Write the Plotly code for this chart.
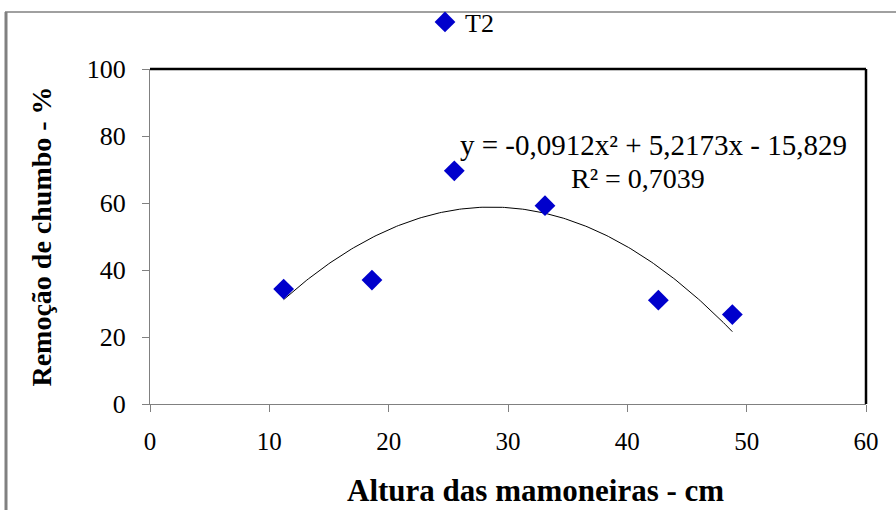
import numpy as np
import plotly.graph_objects as go

# Data
altura_cm = [11.2, 18.6, 25.5, 33.1, 42.6, 48.8]
remocao_pct = [34.3, 37.0, 69.6, 59.2, 31.0, 26.7]
series_name = "T2"

# Polynomial trendline coefficients as printed on the chart
coef_a, coef_b, coef_c = -0.0912, 5.2173, -15.829
equation_text = "y = -0,0912x² + 5,2173x - 15,829"
r2_text = "R² = 0,7039"
x_title = "<b>Altura das mamoneiras - cm</b>"
y_title = "<b>Remoção de chumbo - %</b>"

x_ticks = [0, 10, 20, 30, 40, 50, 60]
y_ticks = [0, 20, 40, 60, 80, 100]

FONT = "Liberation Serif, Times New Roman, serif"

xt = np.linspace(min(altura_cm), max(altura_cm), 200)
yt = coef_a * xt**2 + coef_b * xt + coef_c

fig = go.Figure()
fig.add_trace(go.Scatter(
    x=xt, y=yt, mode="lines", line=dict(color="black", width=1),
    showlegend=False, hoverinfo="skip"))
fig.add_trace(go.Scatter(
    x=altura_cm, y=remocao_pct, mode="markers", name=series_name,
    marker=dict(symbol="diamond", size=16, color="#0000CC",
                line=dict(width=0))))

W, H = 896, 510
L, R, T, B = 150, 30, 69, 106
pw, ph = W - L - R, H - T - B

def px2paper_x(px):
    return (px - L) / pw

def py2paper_y(py):
    return (H - B - py) / ph

fig.update_layout(
    width=W, height=H,
    margin=dict(l=L, r=R, t=T, b=B, autoexpand=False),
    paper_bgcolor="white", plot_bgcolor="white",
    font=dict(family=FONT, color="black", size=24),
    legend=dict(x=px2paper_x(425), y=py2paper_y(22), xanchor="left",
                yanchor="middle", bgcolor="rgba(0,0,0,0)",
                font=dict(size=26, family=FONT), itemwidth=30),
    xaxis=dict(range=[0, 60], tickvals=x_ticks, showgrid=False,
               zeroline=False, showline=True, linecolor="#808080",
               linewidth=1, ticks="outside", ticklen=7,
               tickcolor="#808080", automargin=False,
               ticklabelstandoff=8,
               tickfont=dict(size=25, family=FONT)),
    yaxis=dict(range=[0, 100], tickvals=y_ticks, showgrid=False,
               zeroline=False, showline=True, linecolor="#808080",
               linewidth=1, ticks="outside", ticklen=7,
               tickcolor="#808080", automargin=False,
               ticklabelstandoff=11,
               tickfont=dict(size=26, family=FONT),
               title=dict(text=y_title,
                          font=dict(size=28, family=FONT), standoff=26)),
    shapes=[
        # top and right plot-area borders (black)
        dict(type="line", xref="paper", yref="paper", x0=0, x1=1, y0=1, y1=1,
             line=dict(color="black", width=2.5)),
        dict(type="line", xref="paper", yref="paper", x0=1, x1=1, y0=0, y1=1,
             line=dict(color="black", width=2.5)),
        # outer chart frame (gray)
        dict(type="line", xref="paper", yref="paper",
             x0=px2paper_x(6), x1=px2paper_x(6),
             y0=py2paper_y(12), y1=py2paper_y(512),
             line=dict(color="#808080", width=3)),
        dict(type="line", xref="paper", yref="paper",
             x0=px2paper_x(5), x1=px2paper_x(900),
             y0=py2paper_y(12), y1=py2paper_y(12),
             line=dict(color="#808080", width=1.5)),
    ],
    annotations=[
        dict(text=equation_text, xref="paper", yref="paper",
             x=px2paper_x(653), y=py2paper_y(145), showarrow=False,
             xanchor="center", yanchor="middle",
             font=dict(size=29, family=FONT)),
        dict(text=r2_text, xref="paper", yref="paper",
             x=px2paper_x(638), y=py2paper_y(178), showarrow=False,
             xanchor="center", yanchor="middle",
             font=dict(size=28, family=FONT)),
        dict(text=x_title, xref="paper", yref="paper",
             x=px2paper_x(535), y=py2paper_y(491), showarrow=False,
             xanchor="center", yanchor="middle",
             font=dict(size=31, family=FONT)),
    ],
)

fig.write_html(
    "out.html",
    config={"displayModeBar": False},
    post_script="document.body.style.margin='0';document.body.style.padding='0';",
)
